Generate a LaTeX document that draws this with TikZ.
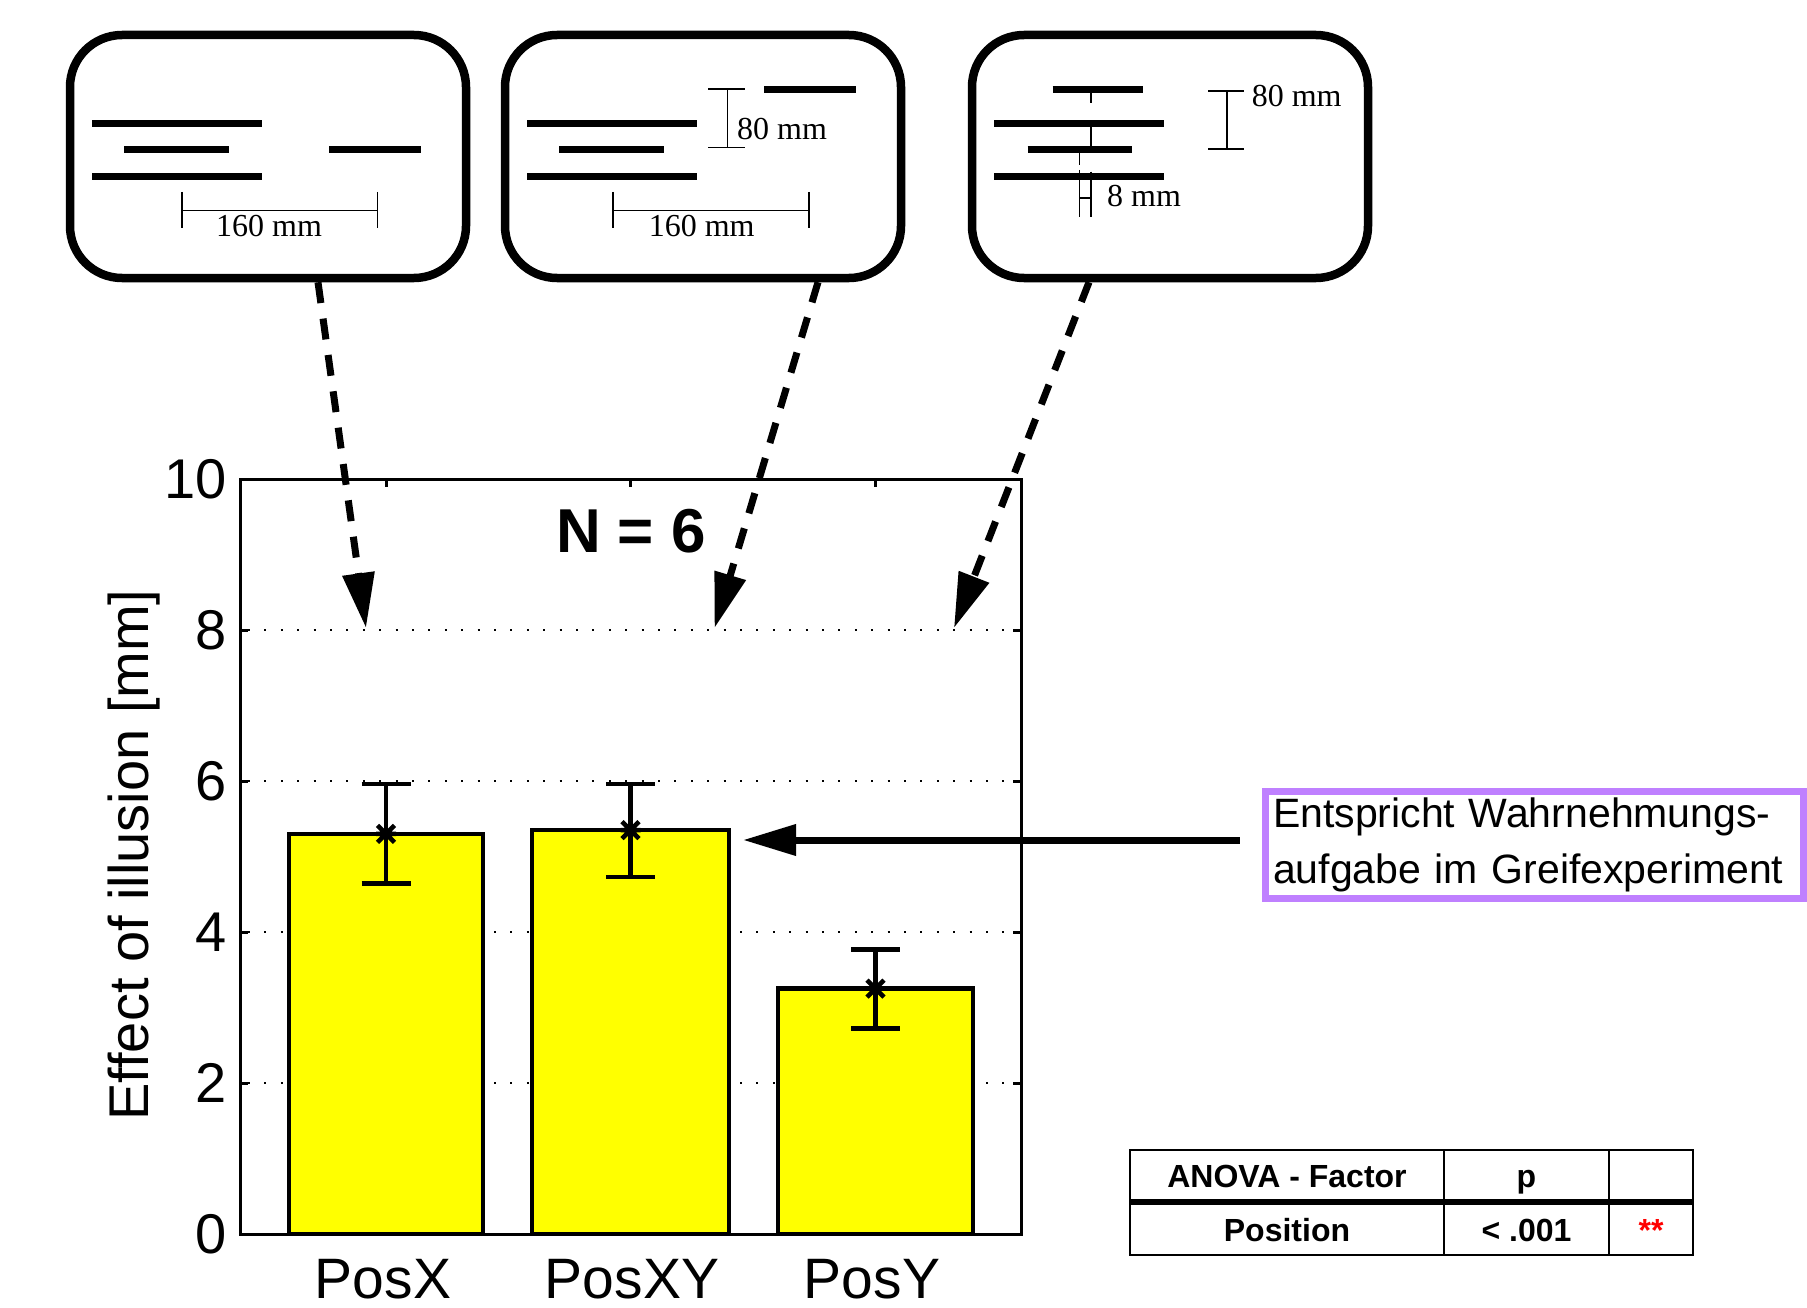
\documentclass[tikz,border=0pt]{standalone}
\usepackage{fontspec}
\setmainfont{Liberation Serif}
\newfontfamily\plotfont{Liberation Sans}
\usetikzlibrary{arrows.meta,calc}
\definecolor{barfill}{RGB}{255,255,0}
\definecolor{notepurple}{RGB}{191,128,255}
\definecolor{sigred}{RGB}{255,0,0}
\tikzset{
  panel/.style={draw, line width=8.5pt, rounded corners=52pt, minimum width=396pt,
    minimum height=243pt, inner sep=0pt},
  stim/.style={line width=7pt},
  dimline/.style={line width=1.6pt},
  dimtext/.style={font=\fontsize{32}{38}\selectfont, inner sep=0pt, anchor=base},
  cue/.style={line width=7pt, dash pattern=on 21pt off 15.7pt,
    -{Triangle[length=55pt,width=31pt]}},
  pointer/.style={line width=7pt, -{Triangle[length=53pt,width=30pt]}},
  axisline/.style={line width=3pt},
  gridline/.style={line width=2pt, dash pattern=on 2pt off 14.4pt},
  bar/.style={draw, fill=barfill, line width=4.5pt},
  errbar/.style={line width=4.5pt},
  ticklabel/.style={font=\plotfont\fontsize{56}{60}\selectfont, inner sep=0pt, anchor=east},
  catlabel/.style={font=\plotfont\fontsize{57}{60}\selectfont, inner sep=0pt, anchor=base},
  axislabel/.style={font=\plotfont\fontsize{56}{60}\selectfont, inner sep=0pt, anchor=base, rotate=90},
  title/.style={font=\plotfont\bfseries\fontsize{62}{70}\selectfont, inner sep=0pt, anchor=base},
  note/.style={draw=notepurple, line width=7pt, minimum width=538pt, minimum height=107pt,
    text width=522pt, align=left, inner xsep=8pt, inner ysep=0pt,
    font=\plotfont\fontsize{41}{56}\selectfont},
  tablerule/.style={line width=1.8pt},
  tablesep/.style={line width=6pt},
  celltext/.style={font=\plotfont\bfseries\fontsize{32}{38}\selectfont, inner sep=0pt, anchor=base},
  meanmark/.pic={\draw[line width=4.5pt] (-8.5pt,-8.5pt) -- (8.5pt,8.5pt) (-8.5pt,8.5pt) -- (8.5pt,-8.5pt)
    (-10pt,0pt) -- (10pt,0pt);}
}
\begin{document}
\begin{tikzpicture}[x=1pt, y=-1pt]
\useasboundingbox (0,0) rectangle (1807,1308);
\fill[white] (0,0) rectangle (1807,1308);

% ---- stimulus panels ----
\node[panel] (panelA) at (268,156.5) {};
\node[panel] (panelB) at (703,156.5) {};
\node[panel] (panelC) at (1170,156.5) {};

% panel A: horizontal offset
\draw[stim] (92,123.7) -- (262,123.7) (124,150) -- (229,150) (92,176.7) -- (262,176.7)
  (329,150) -- (421,150);
\draw[dimline] (181.7,210.7) -- (377.3,210.7) (181.7,192) -- (181.7,228) (377.3,192) -- (377.3,228);
\node[dimtext] (dimA) at (269,236.7) {160 mm};

% panel B: diagonal offset
\draw[stim] (527,123.7) -- (697,123.7) (559,150) -- (664,150) (527,176.7) -- (697,176.7)
  (764,89.3) -- (856,89.3);
\draw[dimline] (727.3,89.3) -- (727.3,147.7) (708,89.3) -- (745,89.3) (708,147.7) -- (745,147.7);
\node[dimtext] (dimB1) at (782,140) {80 mm};
\draw[dimline] (613,210.7) -- (809,210.7) (613,192) -- (613,228) (809,192) -- (809,228);
\node[dimtext] (dimB2) at (701.7,236.7) {160 mm};

% panel C: vertical offset
\draw[stim] (1052.7,89.3) -- (1143.3,89.3) (994.3,123.7) -- (1164.3,123.7)
  (1027.7,150) -- (1131.7,150) (994.3,176.7) -- (1164.3,176.7);
\draw[dimline] (1091,89) -- (1091,103.3) (1091,123.7) -- (1091,150)
  (1079.3,153.3) -- (1079.3,165) (1079.3,170) -- (1079.3,216.7)
  (1091,171.7) -- (1091,216.7) (1079.3,198.3) -- (1091,198.3);
\node[dimtext] (dimC1) at (1144,206.7) {8 mm};
\draw[dimline] (1226.7,91) -- (1226.7,149) (1208.3,91) -- (1244.3,91) (1208.3,149) -- (1244.3,149);
\node[dimtext] (dimC2) at (1296.7,106.7) {80 mm};

% ---- bar chart ----
\begin{scope}[shift={(0,1234)}, y=75.5pt]
  \foreach \v in {2,4,6,8} \draw[gridline] (248,\v) -- (1021,\v);
  \draw[bar] (289,0) rectangle (483,5.30);
  \draw[bar] (532,0) rectangle (729,5.35);
  \draw[bar] (778,0) rectangle (973,3.25);
  \foreach \x/\m/\lo/\hi in {386/5.30/4.64/5.96, 630.5/5.35/4.73/5.96, 875.5/3.25/2.72/3.77}{
    \draw[errbar] (\x,\lo) -- (\x,\hi) (\x-24.5,\lo) -- (\x+24.5,\lo) (\x-24.5,\hi) -- (\x+24.5,\hi);
    \pic at (\x,\m) {meanmark};
  }
  \draw[axisline] (240,0) rectangle (1021,10);
  \foreach \v in {0,2,...,10}{
    \draw[axisline] (240,\v) -- ++(8,0);
    \draw[axisline] (1021,\v) -- ++(-8,0);
    \node[ticklabel] (ytick\v) at (227,\v) {\v};
  }
  \foreach \x in {386,630.5,875.5} \draw[axisline] (\x,10) -- ++(0,-8pt);
\end{scope}

\node[catlabel] (catX) at (383,1298) {PosX};
\node[catlabel] (catXY) at (632,1298) {PosXY};
\node[catlabel] (catY) at (872,1298) {PosY};
\node[axislabel] (ylab) at (148,855) {Effect of illusion [mm]};
\node[title] (nlabel) at (631,552.7) {N = 6};

% ---- cue arrows from panels to the 8 mm level ----
\coordinate (tipA) at (366,628);
\coordinate (tipB) at (714.5,628);
\coordinate (tipC) at (954,628);
\draw[cue] ($(panelA.south)+(50,0)$) -- (tipA);
\draw[cue] ($(panelB.south)+(115,0)$) -- (tipB);
\draw[cue] ($(panelC.south)+(-81,0)$) -- (tipC);

% ---- annotation ----
\node[note] (note) at (1534,844.5) {Entspricht Wahrnehmungs-\\aufgabe im Greifexperiment};
\coordinate (tipE) at (743,840);
\draw[pointer] ($(note.west |- tipE)+(-22,0)$) -- (tipE);

% ---- ANOVA table ----
\draw[tablerule] (1130,1150) rectangle (1693,1255);
\draw[tablerule] (1444,1150) -- (1444,1255) (1609,1150) -- (1609,1255);
\draw[tablesep] (1130,1202) -- (1693,1202);
\node[celltext] (hfactor) at (1287,1187.5) {ANOVA - Factor};
\node[celltext] (hp) at (1526.5,1187.5) {p};
\node[celltext] (cfactor) at (1287,1241.5) {Position};
\node[celltext] (cp) at (1526.5,1241.5) {< .001};
\node[celltext, text=sigred] (csig) at (1651,1241.5) {**};
\end{tikzpicture}
\end{document}
